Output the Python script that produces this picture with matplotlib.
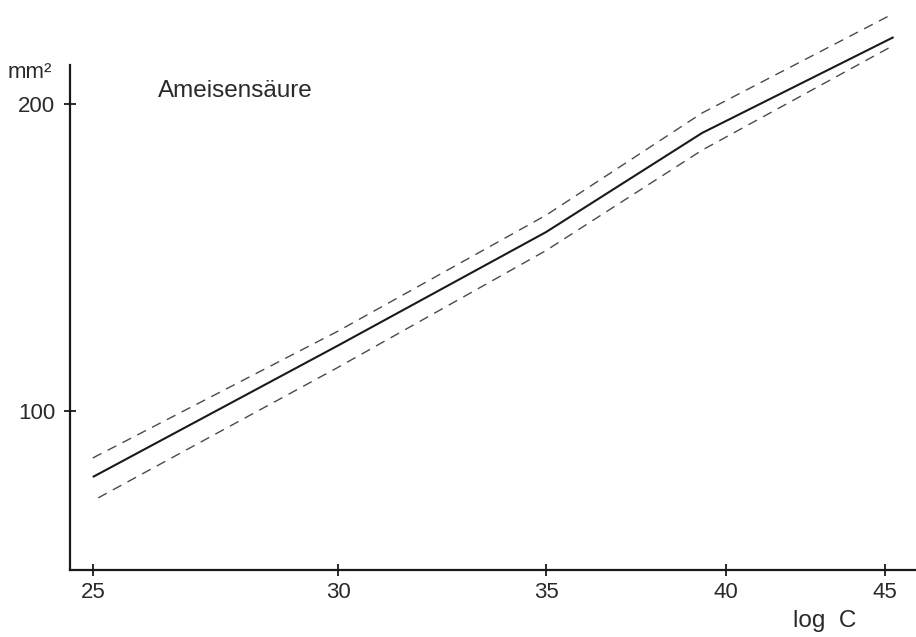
import matplotlib
matplotlib.use("Agg")
import matplotlib.pyplot as plt
from matplotlib.ticker import FixedLocator, NullLocator, FixedFormatter

# data
x_vals = [25, 30, 35, 39.3, 45.3]
mean_vals = [78.5, 121.4, 158.3, 190.6, 221.8]
upper_x = [25, 30, 35, 39.3, 45.2]
upper_vals = [84.7, 126.1, 163.8, 197.1, 229.0]
lower_x = [25.1, 30, 35, 39.3, 45.2]
lower_vals = [71.7, 114.3, 152.3, 185.0, 218.6]
x_ticks = [25, 30, 35, 40, 45]
y_ticks = [100, 200]

plt.rcParams['font.family'] = ['Liberation Sans', 'DejaVu Sans']

W, H = 916, 637
fig = plt.figure(figsize=(W / 100, H / 100), dpi=100)
fig.patch.set_facecolor('white')
ax = fig.add_axes([70 / W, (H - 570) / H, 846 / W, 570 / H])
ax.set_facecolor('white')

ax.plot(x_vals, mean_vals, color='#1a1a1a', lw=1.5, solid_capstyle='butt')
ax.plot(upper_x, upper_vals, color='#4a4a4a', lw=1.0, dashes=(7, 5))
ax.plot(lower_x, lower_vals, color='#4a4a4a', lw=1.0, dashes=(7, 5))

ax.set_xscale('log')
ax.set_xlim(24.58, 46.06)
ax.set_ylim(48.2, 233.9)

ax.xaxis.set_major_locator(FixedLocator(x_ticks))
ax.xaxis.set_major_formatter(FixedFormatter([str(t) for t in x_ticks]))
ax.xaxis.set_minor_locator(NullLocator())
ax.yaxis.set_major_locator(FixedLocator(y_ticks))
ax.yaxis.set_minor_locator(NullLocator())

for s in ['top', 'right']:
    ax.spines[s].set_visible(False)
for s in ['left', 'bottom']:
    ax.spines[s].set_linewidth(1.6)
    ax.spines[s].set_color('#1a1a1a')
ax.spines['left'].set_bounds(48.2, 212.7)

ax.tick_params(axis='both', direction='inout', length=9, width=1.3, colors='#1a1a1a',
               labelsize=16, labelcolor='#2a2a2a')
ax.tick_params(axis='x', pad=4)
ax.tick_params(axis='y', pad=6)

fig.text(8 / W, 1 - 73 / H, 'mm²', fontsize=16, color='#2a2a2a', va='center', ha='left')
fig.text(158 / W, 1 - 91 / H, 'Ameisensäure', fontsize=17.5, color='#2a2a2a', va='center', ha='left')
fig.text(793 / W, 1 - 621 / H, 'log  C', fontsize=17.5, color='#2a2a2a', va='center', ha='left')

fig.savefig('out.png', dpi=100, facecolor='white')
